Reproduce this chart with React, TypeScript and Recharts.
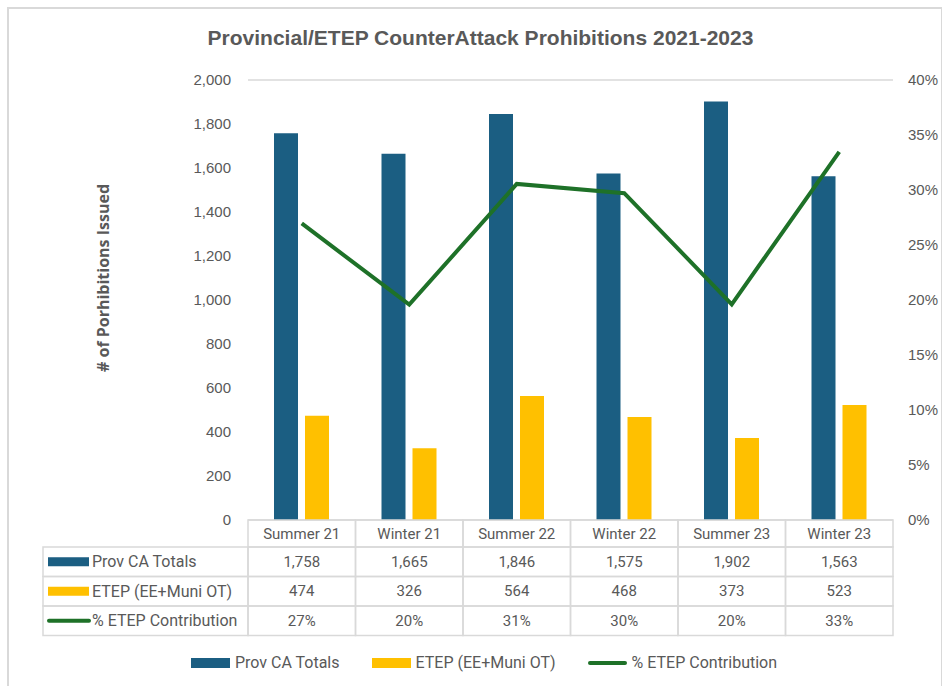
import React from 'react';
import { ComposedChart, Bar, Line, XAxis, YAxis, CartesianGrid, Legend } from 'recharts';

const categories = ['Summer 21', 'Winter 21', 'Summer 22', 'Winter 22', 'Summer 23', 'Winter 23'];
const provTotals = [1758, 1665, 1846, 1575, 1902, 1563];
const etepTotals = [474, 326, 564, 468, 373, 523];
const etepPct = [0.2696, 0.1958, 0.3055, 0.2971, 0.1961, 0.3346];
const leftTicks = [0, 200, 400, 600, 800, 1000, 1200, 1400, 1600, 1800, 2000];
const rightTicks = [0, 0.05, 0.1, 0.15, 0.2, 0.25, 0.3, 0.35, 0.4];
const seriesNames = ['Prov CA Totals', 'ETEP (EE+Muni OT)', '% ETEP Contribution'];

const BLUE = '#1B5E82';
const YELLOW = '#FFC000';
const GREEN = '#1E7128';
const GRID = '#d9d9d9';
const TEXT = '#595959';
const TABLE_FONT = 'Roboto, "Liberation Sans", sans-serif';

const data = categories.map((c, i) => ({
  name: c,
  prov: provTotals[i],
  etep: etepTotals[i],
  pct: etepPct[i],
}));

const PLOT_BOTTOM = 520;
const BAND = 107.5;
const HEADER_H = 27;
const ROW_H = 29.5;
const TABLE_LEFT = 43;
const PLOT_LEFT = 248;

const fmtNum = (v: number) => v.toLocaleString('en-US');
const fmtPct = (v: number) => Math.round(v * 100) + '%';

const rowValues = [
  provTotals.map(fmtNum),
  etepTotals.map(fmtNum),
  etepPct.map(fmtPct),
];

function RowIcon({ kind, y }: { kind: number; y: number }) {
  if (kind === 2) {
    return <line x1={49} x2={89} y1={y} y2={y} stroke={GREEN} strokeWidth={4} strokeLinecap="round" />;
  }
  return <rect x={48} y={y - 4.5} width={41} height={9} fill={kind === 0 ? BLUE : YELLOW} />;
}

function TableTick(props: any) {
  const { x, payload, index } = props;
  const left = x - BAND / 2;
  const rowsTop = PLOT_BOTTOM + HEADER_H;
  return (
    <g>
      <rect x={left} y={PLOT_BOTTOM} width={BAND} height={HEADER_H} fill="none" stroke={GRID} strokeWidth={1.5} />
      <text x={x} y={PLOT_BOTTOM + HEADER_H / 2} textAnchor="middle" dominantBaseline="central" fontSize={15} fill={TEXT} fontFamily={TABLE_FONT}>
        {payload.value}
      </text>
      {rowValues.map((vals, r) => (
        <g key={r}>
          <rect x={left} y={rowsTop + r * ROW_H} width={BAND} height={ROW_H} fill="none" stroke={GRID} strokeWidth={1.5} />
          <text x={x} y={rowsTop + r * ROW_H + ROW_H / 2} textAnchor="middle" dominantBaseline="central" fontSize={15} fill={TEXT} fontFamily={TABLE_FONT}>
            {vals[index]}
          </text>
        </g>
      ))}
      {index === 0 &&
        seriesNames.map((n, r) => (
          <g key={'l' + r}>
            <rect x={TABLE_LEFT} y={rowsTop + r * ROW_H} width={PLOT_LEFT - TABLE_LEFT} height={ROW_H} fill="none" stroke={GRID} strokeWidth={1.5} />
            <RowIcon kind={r} y={rowsTop + r * ROW_H + ROW_H / 2} />
            <text x={92} y={rowsTop + r * ROW_H + ROW_H / 2} dominantBaseline="central" fontSize={16} fill={TEXT} fontFamily={TABLE_FONT}>
              {n}
            </text>
          </g>
        ))}
    </g>
  );
}

function LegendContent(props: any) {
  const items = [...(props.payload || [])].sort(
    (a: any, b: any) => seriesNames.indexOf(a.value) - seriesNames.indexOf(b.value)
  );
  return (
    <div style={{ display: 'flex', justifyContent: 'center', alignItems: 'center', paddingLeft: 26, marginTop: 6, fontFamily: TABLE_FONT, fontSize: 16, color: TEXT }}>
      {items.map((p: any, i: number) => (
        <div key={i} style={{ display: 'flex', alignItems: 'center', marginRight: i < items.length - 1 ? 32 : 0 }}>
          <svg width={39} height={12} style={{ marginRight: 5 }}>
            {p.type === 'line' ? (
              <line x1={2} x2={37} y1={6} y2={6} stroke={p.color} strokeWidth={4} strokeLinecap="round" />
            ) : (
              <rect x={0} y={1} width={39} height={10} fill={p.color} />
            )}
          </svg>
          <span>{p.value}</span>
        </div>
      ))}
    </div>
  );
}

export default function App() {
  return (
    <div style={{ position: 'absolute', left: 0, top: 0, width: 942, height: 686, background: '#fff' }}>
      <div style={{ position: 'absolute', left: 7, top: 7, width: 932, height: 690, borderLeft: `2px solid ${GRID}`, borderTop: `2px solid ${GRID}`, borderRight: `2px solid ${GRID}` }} />
      <div style={{ position: 'absolute', left: 0, top: 26, width: 961, textAlign: 'center', fontFamily: '"Liberation Sans Narrow", "Liberation Sans", sans-serif', fontWeight: 'bold', fontSize: 21, color: TEXT }}>
        Provincial/ETEP CounterAttack Prohibitions 2021-2023
      </div>
      <div style={{ position: 'absolute', left: 103, top: 278, transform: 'translate(-50%, -50%) rotate(-90deg)', whiteSpace: 'nowrap', fontFamily: '"Open Sans", sans-serif', fontWeight: 'bold', fontSize: 16, color: TEXT }}>
        # of Porhibitions Issued
      </div>
      <ComposedChart width={942} height={686} data={data} margin={{ top: 80, right: 0, bottom: 9, left: 188 }} barGap={7} barSize={24} style={{ position: 'absolute', left: 0, top: 0 }}>
        <CartesianGrid vertical={false} stroke={GRID} strokeWidth={1.5} />
        <XAxis dataKey="name" height={127} axisLine={false} tickLine={false} tick={<TableTick />} interval={0} />
        <YAxis yAxisId="left" width={60} domain={[0, 2000]} ticks={leftTicks} axisLine={false} tickLine={false} tickMargin={11}
          tickFormatter={fmtNum} tick={{ fill: TEXT, fontSize: 15, fontFamily: '"Liberation Sans", sans-serif' }} />
        <YAxis yAxisId="right" orientation="right" width={49} domain={[0, 0.4]} ticks={rightTicks} axisLine={false} tickLine={false} tickMargin={9}
          tickFormatter={fmtPct} tick={{ fill: TEXT, fontSize: 15, fontFamily: '"Liberation Sans", sans-serif', textAnchor: 'start' }} />
        <Bar yAxisId="left" dataKey="prov" name={seriesNames[0]} fill={BLUE} isAnimationActive={false} />
        <Bar yAxisId="left" dataKey="etep" name={seriesNames[1]} fill={YELLOW} isAnimationActive={false} />
        <Line yAxisId="right" dataKey="pct" name={seriesNames[2]} stroke={GREEN} strokeWidth={4} dot={false} isAnimationActive={false} />
        <Legend verticalAlign="bottom" height={30} content={<LegendContent />} wrapperStyle={{ left: 0, width: 942 }} />
      </ComposedChart>
    </div>
  );
}
